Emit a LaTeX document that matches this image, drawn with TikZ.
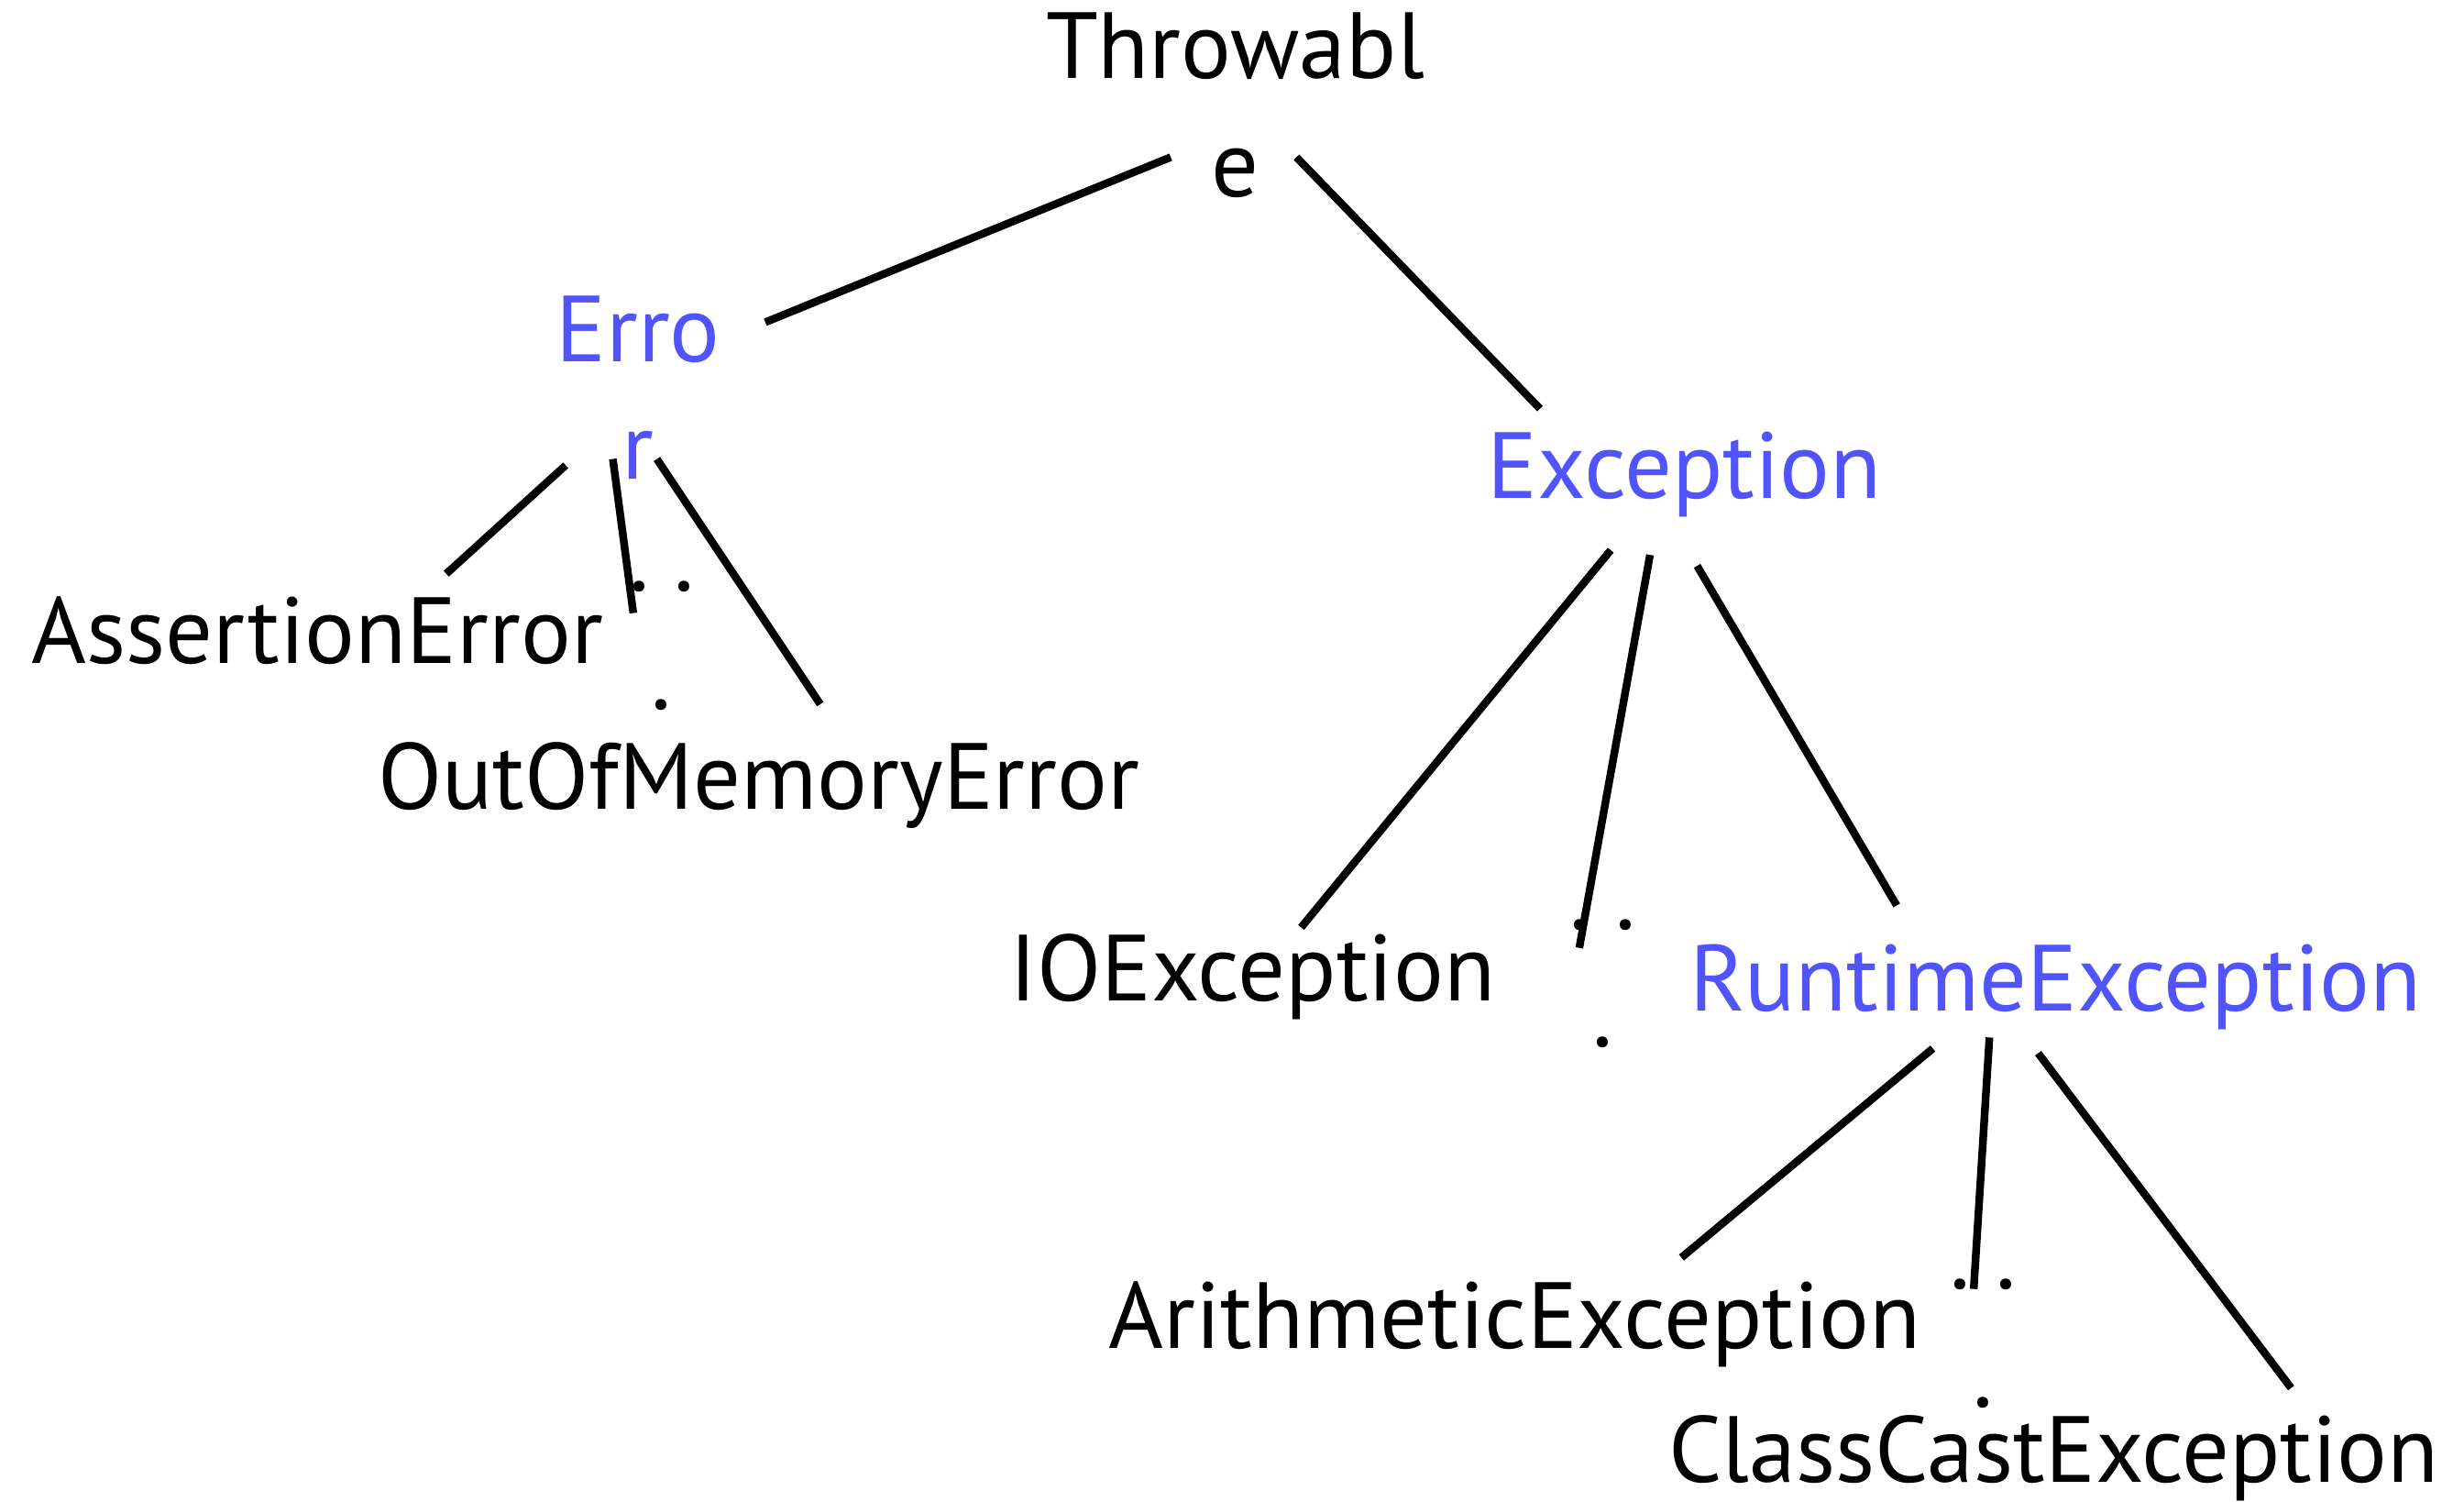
\documentclass[tikz,border=0pt]{standalone}
\usepackage{fontspec}
\setmainfont{PT Sans}
\usepackage{tikz}

\definecolor{classblue}{RGB}{80,84,250}
\tikzset{
  cls/.style={anchor=base,align=center,font=\fontsize{17}{21.3}\selectfont},
  parent/.style={cls,text=classblue},
  link/.style={line width=1.4pt}
}

\begin{document}
\begin{tikzpicture}[x=0.1mm,y=-0.1mm]
  \useasboundingbox (0,0) rectangle (1568,955);
  % classes (multi-line nodes sit on their last line)
  \node[cls] (throwable) at (786,125) {Throwabl\\e};
  \node[parent] (error) at (406,305) {Erro\\r};
  \node[parent] (exception) at (1072,317) {Exception};
  \node[cls] (assertion) at (202,422) {AssertionError};
  \node[cls] (errdots) at (421,451) {.\ .\\.};
  \node[cls] (oom) at (483,515) {OutOfMemoryError};
  \node[cls] (ioexc) at (797,637) {IOException};
  \node[cls] (excdots) at (1020,666) {.\ .\\.};
  \node[parent] (runtime) at (1308,643) {RuntimeException};
  \node[cls] (arith) at (964,858) {ArithmeticException};
  \node[cls] (rtdots) at (1262,895) {.\ .\\.};
  \node[cls] (classcast) at (1307,943) {ClassCastException};
  % links
  \draw[link] ([shift={(-41,-25)}]throwable.base) -- ([shift={(81,-100)}]error.base);
  \draw[link] ([shift={(39,-25)}]throwable.base) -- ([shift={(-92,-57)}]exception.base);
  \draw[link] ([shift={(-46,-9)}]error.base) -- ([shift={(82,-57)}]assertion.base);
  \draw[link] ([shift={(-16,-13)}]error.base) -- ([shift={(-18,-61)}]errdots.base);
  \draw[link] ([shift={(12,-13)}]error.base) -- ([shift={(39,-67)}]oom.base);
  \draw[link] ([shift={(-47,33)}]exception.base) -- ([shift={(31,-47)}]ioexc.base);
  \draw[link] ([shift={(-22,36)}]exception.base) -- ([shift={(-15,-63)}]excdots.base);
  \draw[link] ([shift={(8,43)}]exception.base) -- ([shift={(-101,-67)}]runtime.base);
  \draw[link] ([shift={(-78,24)}]runtime.base) -- ([shift={(106,-58)}]arith.base);
  \draw[link] ([shift={(-42,17)}]runtime.base) -- ([shift={(-6,-75)}]rtdots.base);
  \draw[link] ([shift={(-11,27)}]runtime.base) -- ([shift={(151,-60)}]classcast.base);
\end{tikzpicture}
\end{document}
